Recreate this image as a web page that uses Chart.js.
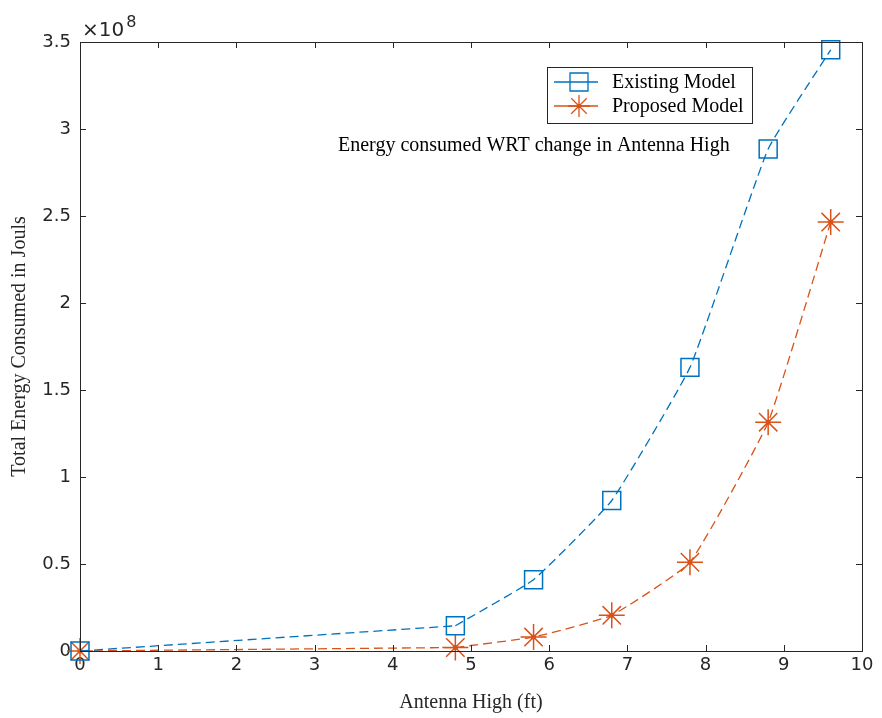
<!DOCTYPE html>
<html><head><meta charset="utf-8">
<script src="https://cdn.jsdelivr.net/npm/chart.js@4/dist/chart.umd.min.js"></script>
<style>html,body{margin:0;padding:0;background:#fff}#wrap{width:882px;height:718px}</style>
</head><body><div id="wrap"><canvas id="c" width="882" height="718"></canvas></div>
<script>
const antennaHigh = [0, 4.8, 5.8, 6.8, 7.8, 8.8, 9.6];
const existingModel = [0, 0.145e8, 0.41e8, 0.865e8, 1.63e8, 2.885e8, 3.455e8];
const proposedModel = [0, 0.02e8, 0.08e8, 0.205e8, 0.51e8, 1.315e8, 2.465e8];
const xTicks = [0,1,2,3,4,5,6,7,8,9,10];
const yTicks = [0,0.5,1,1.5,2,2.5,3,3.5];
const seriesNames = ['Existing Model','Proposed Model'];
const annotationText = 'Energy consumed WRT change in Antenna High';
const xTitle = 'Antenna High (ft)';
const yTitle = 'Total Energy Consumed in Jouls';

const BLUE = '#0072BD', ORANGE = '#D95319', AX = '#262626';
const SANS = '"DejaVu Sans", sans-serif';
const SERIF = '"Liberation Serif", "Times New Roman", serif';

function pts(ys){ return antennaHigh.map((x,i)=>({x:x,y:ys[i]})); }

const frame = {
  id:'frame',
  afterDraw(chart){
    const {ctx, chartArea:a, scales} = chart;
    ctx.save();
    ctx.strokeStyle = AX; ctx.lineWidth = 1;
    ctx.strokeRect(a.left+0.5, a.top+0.5, a.right-a.left, a.bottom-a.top);
    const L = 6;
    ctx.beginPath();
    xTicks.forEach(v=>{
      const px = Math.round(scales.x.getPixelForValue(v))+0.5;
      ctx.moveTo(px,a.bottom); ctx.lineTo(px,a.bottom-L);
      ctx.moveTo(px,a.top); ctx.lineTo(px,a.top+L);
    });
    yTicks.forEach(v=>{
      const py = Math.round(scales.y.getPixelForValue(v*1e8))+0.5;
      ctx.moveTo(a.left,py); ctx.lineTo(a.left+L,py);
      ctx.moveTo(a.right,py); ctx.lineTo(a.right-L,py);
    });
    ctx.stroke();
    // exponent
    ctx.fillStyle = AX;
    ctx.textBaseline = 'alphabetic';
    ctx.textAlign = 'left';
    ctx.font = '20px '+SANS;
    ctx.fillText('\u00d710', a.left+2, 36);
    const w = ctx.measureText('\u00d710').width;
    ctx.font = '16px '+SANS;
    ctx.fillText('8', a.left+2+w+2, 27);
    // annotation
    ctx.fillStyle = '#000';
    ctx.font = '20px '+SERIF;
    ctx.fillText(annotationText, 338, 151);
    // legend
    const lx = 547, ly = 67, lw = 205, lh = 56;
    ctx.fillStyle = '#fff';
    ctx.fillRect(lx, ly, lw, lh);
    ctx.strokeStyle = AX; ctx.lineWidth = 1;
    ctx.strokeRect(lx+0.5, ly+0.5, lw, lh);
    const rows = [
      {c:BLUE, y:82, base:88, name:seriesNames[0], m:'sq'},
      {c:ORANGE, y:106, base:112, name:seriesNames[1], m:'st'}
    ];
    rows.forEach(r=>{
      ctx.strokeStyle = r.c; ctx.lineWidth = 1.3;
      ctx.beginPath(); ctx.moveTo(lx+7, r.y); ctx.lineTo(lx+51, r.y); ctx.stroke();
      const cx = lx+32;
      ctx.beginPath();
      if (r.m==='sq') { ctx.rect(cx-9, r.y-9, 18, 18); ctx.stroke(); }
      else {
        const R = 11, d = R*Math.SQRT1_2;
        ctx.moveTo(cx-R,r.y); ctx.lineTo(cx+R,r.y);
        ctx.moveTo(cx,r.y-R); ctx.lineTo(cx,r.y+R);
        ctx.moveTo(cx-d,r.y-d); ctx.lineTo(cx+d,r.y+d);
        ctx.moveTo(cx-d,r.y+d); ctx.lineTo(cx+d,r.y-d);
        ctx.stroke();
        ctx.fillStyle = r.c; ctx.beginPath(); ctx.arc(cx, r.y, 2.2, 0, Math.PI*2); ctx.fill();
      }
      ctx.fillStyle = '#000';
      ctx.font = '20px '+SERIF;
      ctx.textBaseline = 'alphabetic';
      ctx.fillText(r.name, 612, r.base);
    });
    ctx.restore();
  }
};

function lineDs(data, color, tension){
  return { data:data, showLine:true, borderColor:color, backgroundColor:'transparent',
    borderWidth:1.3, borderDash:[9,5], tension:tension, pointRadius:0, clip:false };
}

new Chart(document.getElementById('c'), {
  type:'scatter',
  data:{ datasets:[
    lineDs(pts(existingModel).slice(0,2), BLUE, 0),
    lineDs(pts(existingModel).slice(1), BLUE, 0.12),
    lineDs(pts(proposedModel).slice(0,2), ORANGE, 0),
    lineDs(pts(proposedModel).slice(1), ORANGE, 0.12),
    { label:seriesNames[0], data:pts(existingModel), showLine:false, clip:false,
      pointStyle:'rect', pointRadius:12.7, pointBorderColor:BLUE, pointBorderWidth:1.5, pointBackgroundColor:'transparent' },
    { label:seriesNames[1], data:pts(proposedModel), showLine:false, clip:false,
      pointStyle:'star', pointRadius:13, pointBorderColor:ORANGE, pointBorderWidth:1.5, pointBackgroundColor:ORANGE },
    { data:pts(proposedModel), showLine:false, clip:false,
      pointStyle:'circle', pointRadius:2.5, pointBorderWidth:0, pointBackgroundColor:ORANGE }
  ]},
  options:{
    responsive:false, animation:false, devicePixelRatio:1,
    layout:{padding:{left:0, top:42, right:20, bottom:0}},
    plugins:{legend:{display:false}, tooltip:{enabled:false}},
    scales:{
      x:{ type:'linear', min:0, max:10,
        afterFit(s){ s.height = 67; },
        afterBuildTicks(s){ s.ticks = xTicks.map(v=>({value:v})); },
        grid:{display:false, drawTicks:false},
        border:{display:false},
        ticks:{color:AX, font:{family:SANS, size:18}, padding:4, maxRotation:0, autoSkip:false},
        title:{display:true, text:xTitle, color:AX, font:{family:SERIF, size:20}, padding:{top:0,bottom:3}}
      },
      y:{ type:'linear', min:0, max:3.5e8,
        afterFit(s){ s.width = 80; },
        afterBuildTicks(s){ s.ticks = yTicks.map(v=>({value:v*1e8})); },
        grid:{display:false, drawTicks:false},
        border:{display:false},
        ticks:{color:AX, font:{family:SANS, size:18}, padding:9, autoSkip:false, callback:(v)=>String(v/1e8)},
        title:{display:true, text:yTitle, color:AX, font:{family:SERIF, size:20}, padding:{top:8,bottom:0}}
      }
    }
  },
  plugins:[frame]
});
</script></body></html>
